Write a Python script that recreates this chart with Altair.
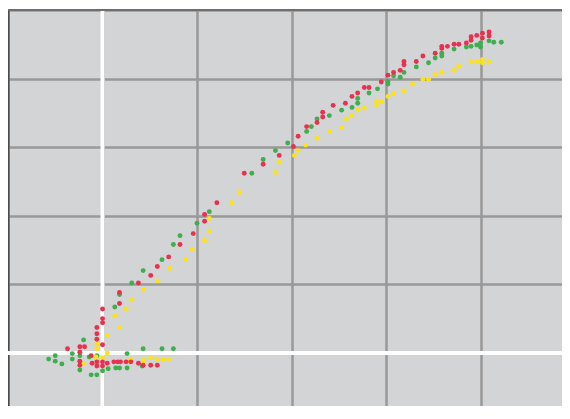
import altair as alt
import pandas as pd

# ---- data (x: gridline units, y: gridline units) ----
red_x = [-0.37, -0.24, -0.19, -0.24, -0.24, -0.24, -0.12, -0.11, -0.06, -0.06,
         0.00, 0.00, 0.05, 0.12, 0.16, 0.19, 0.25, 0.30, 0.38, 0.43,
         0.51, 0.58, 0.00, -0.06, -0.06, -0.06, 0.00, 0.00, 0.00, 0.18,
         0.18, 0.38, 0.51, 0.58, 0.70, 0.82, 0.96, 1.08, 1.08, 1.21,
         1.50, 1.70, 1.87, 2.02, 2.07, 2.16, 2.27, 2.33, 2.33, 2.44,
         2.57, 2.64, 2.70, 2.77, 2.82, 2.95, 3.02, 3.08, 3.15, 3.19,
         3.19, 3.32, 3.39, 3.52, 3.59, 3.59, 3.65, 3.72, 3.77, 3.85,
         3.90, 3.90, 3.96, 4.02, 4.02, 4.09, 4.09]
red_y = [0.06, 0.09, 0.09, 0.01, -0.12, -0.18, -0.04, -0.15, -0.13, -0.19,
         -0.13, -0.19, -0.15, -0.13, -0.13, -0.13, -0.13, -0.13, -0.15, -0.18,
         -0.18, -0.18, 0.12, 0.20, 0.28, 0.37, 0.44, 0.50, 0.64, 0.72,
         0.88, 1.02, 1.13, 1.26, 1.40, 1.58, 1.74, 1.92, 2.02, 2.19,
         2.62, 2.75, 2.88, 3.01, 3.16, 3.30, 3.36, 3.44, 3.51, 3.61,
         3.64, 3.74, 3.79, 3.87, 3.87, 3.95, 4.05, 4.09, 4.12, 4.20,
         4.25, 4.25, 4.33, 4.37, 4.44, 4.47, 4.47, 4.50, 4.50, 4.52,
         4.56, 4.61, 4.63, 4.59, 4.66, 4.62, 4.68]

green_x = [-0.57, -0.50, -0.50, -0.43, -0.32, -0.32, -0.24, -0.24, -0.20, -0.14,
           -0.12, -0.06, -0.06, 0.00, 0.06, 0.14, 0.18, 0.26, 0.42, 0.26,
           0.43, 0.63, 0.75, 0.13, 0.18, 0.31, 0.43, 0.63, 0.75, 0.82,
           1.00, 1.13, 1.58, 1.70, 1.83, 1.96, 2.16, 2.21, 2.27, 2.40,
           2.53, 2.64, 2.70, 2.70, 2.82, 2.91, 3.02, 3.02, 3.08, 3.15,
           3.19, 3.32, 3.45, 3.52, 3.59, 3.59, 3.72, 3.85, 3.90, 3.96,
           4.00, 4.00, 4.09, 4.14, 4.22]
green_y = [-0.09, -0.04, -0.12, -0.16, -0.01, -0.09, -0.04, -0.25, 0.19, -0.06,
           -0.32, -0.32, -0.04, -0.26, -0.23, -0.22, -0.22, -0.22, -0.19, -0.01,
           0.06, 0.06, 0.06, 0.67, 0.85, 1.02, 1.20, 1.36, 1.58, 1.71,
           1.89, 2.06, 2.62, 2.82, 2.95, 3.06, 3.23, 3.30, 3.41, 3.46,
           3.54, 3.58, 3.64, 3.71, 3.79, 3.85, 3.92, 3.96, 4.04, 4.02,
           4.09, 4.17, 4.23, 4.30, 4.33, 4.37, 4.43, 4.46, 4.47, 4.49,
           4.52, 4.46, 4.55, 4.53, 4.53]

yellow_x = [-0.20, -0.07, -0.06, -0.06, 0.00, 0.05, 0.05, 0.27, 0.30, 0.43,
            0.43, 0.51, 0.58, 0.64, 0.70, 0.18, 0.13, 0.25, 0.31, 0.43,
            0.58, 0.71, 0.88, 0.95, 1.08, 1.13, 1.13, 1.37, 1.45, 1.83,
            1.87, 2.03, 2.07, 2.15, 2.27, 2.40, 2.53, 2.58, 2.64, 2.70,
            2.77, 2.90, 2.90, 2.95, 3.02, 3.08, 3.19, 3.28, 3.39, 3.45,
            3.52, 3.59, 3.72, 3.77, 3.90, 3.96, 4.02, 4.02, 4.09]
yellow_y = [-0.16, -0.06, 0.13, 0.06, -0.07, 0.00, 0.26, -0.13, -0.09, -0.10,
            -0.15, -0.07, -0.09, -0.10, -0.09, 0.37, 0.54, 0.64, 0.77, 0.92,
            1.05, 1.23, 1.36, 1.51, 1.64, 1.78, 1.96, 2.19, 2.34, 2.63,
            2.78, 2.88, 2.95, 3.03, 3.13, 3.23, 3.29, 3.41, 3.46, 3.54,
            3.57, 3.61, 3.67, 3.67, 3.74, 3.79, 3.82, 3.92, 3.99, 3.99,
            4.06, 4.09, 4.12, 4.18, 4.24, 4.25, 4.28, 4.23, 4.24]

series_names = ["green", "yellow", "red"]
series_colors = ["#3daf4c", "#fbe21d", "#e8314f"]
grid_values = [-1, 0, 1, 2, 3, 4, 5]
x_domain = [-1, 4.862]
y_domain = [-0.774, 5]

rows = []
for order, (name, xs, ys) in enumerate(
        [("green", green_x, green_y), ("yellow", yellow_x, yellow_y), ("red", red_x, red_y)]):
    for x, y in zip(xs, ys):
        rows.append({"series": name, "x": x, "y": y, "ord": order})
df = pd.DataFrame(rows)

xscale = alt.Scale(domain=x_domain, nice=False, zero=False)
yscale = alt.Scale(domain=y_domain, nice=False, zero=False)
ax_x = alt.Axis(values=grid_values, title=None, labels=False, ticks=False, domain=False)
ax_y = alt.Axis(values=grid_values, title=None, labels=False, ticks=False,
                domain=True, domainColor="#4a4a4a", domainWidth=2)

points = alt.Chart(df).mark_circle(size=24, opacity=1).encode(
    x=alt.X("x:Q", scale=xscale, axis=ax_x),
    y=alt.Y("y:Q", scale=yscale, axis=ax_y),
    color=alt.Color("series:N", scale=alt.Scale(domain=series_names, range=series_colors), legend=None),
    order=alt.Order("ord:Q"),
)

zero = pd.DataFrame({"v": [0]})
top = pd.DataFrame({"v": [y_domain[1]]})
vline = alt.Chart(zero).mark_rule(color="white", strokeWidth=4).encode(
    x=alt.X("v:Q", scale=xscale, axis=ax_x))
hline = alt.Chart(zero).mark_rule(color="white", strokeWidth=4).encode(
    y=alt.Y("v:Q", scale=yscale, axis=ax_y))
topline = alt.Chart(top).mark_rule(color="#6e6e6e", strokeWidth=2).encode(
    y=alt.Y("v:Q", scale=yscale, axis=ax_y))

chart = alt.layer(vline, hline, topline, points).properties(
    width=554, height=396,
    autosize=alt.AutoSizeParams(type="none"),
    padding={"left": 0, "top": 2, "right": 0, "bottom": 0},
).configure_view(
    fill="#d3d4d6", stroke=None
).configure_axis(
    gridColor="#999999", gridWidth=2.5, gridOpacity=1
)

chart.save("out.html", embed_options={"renderer": "svg", "actions": False})
